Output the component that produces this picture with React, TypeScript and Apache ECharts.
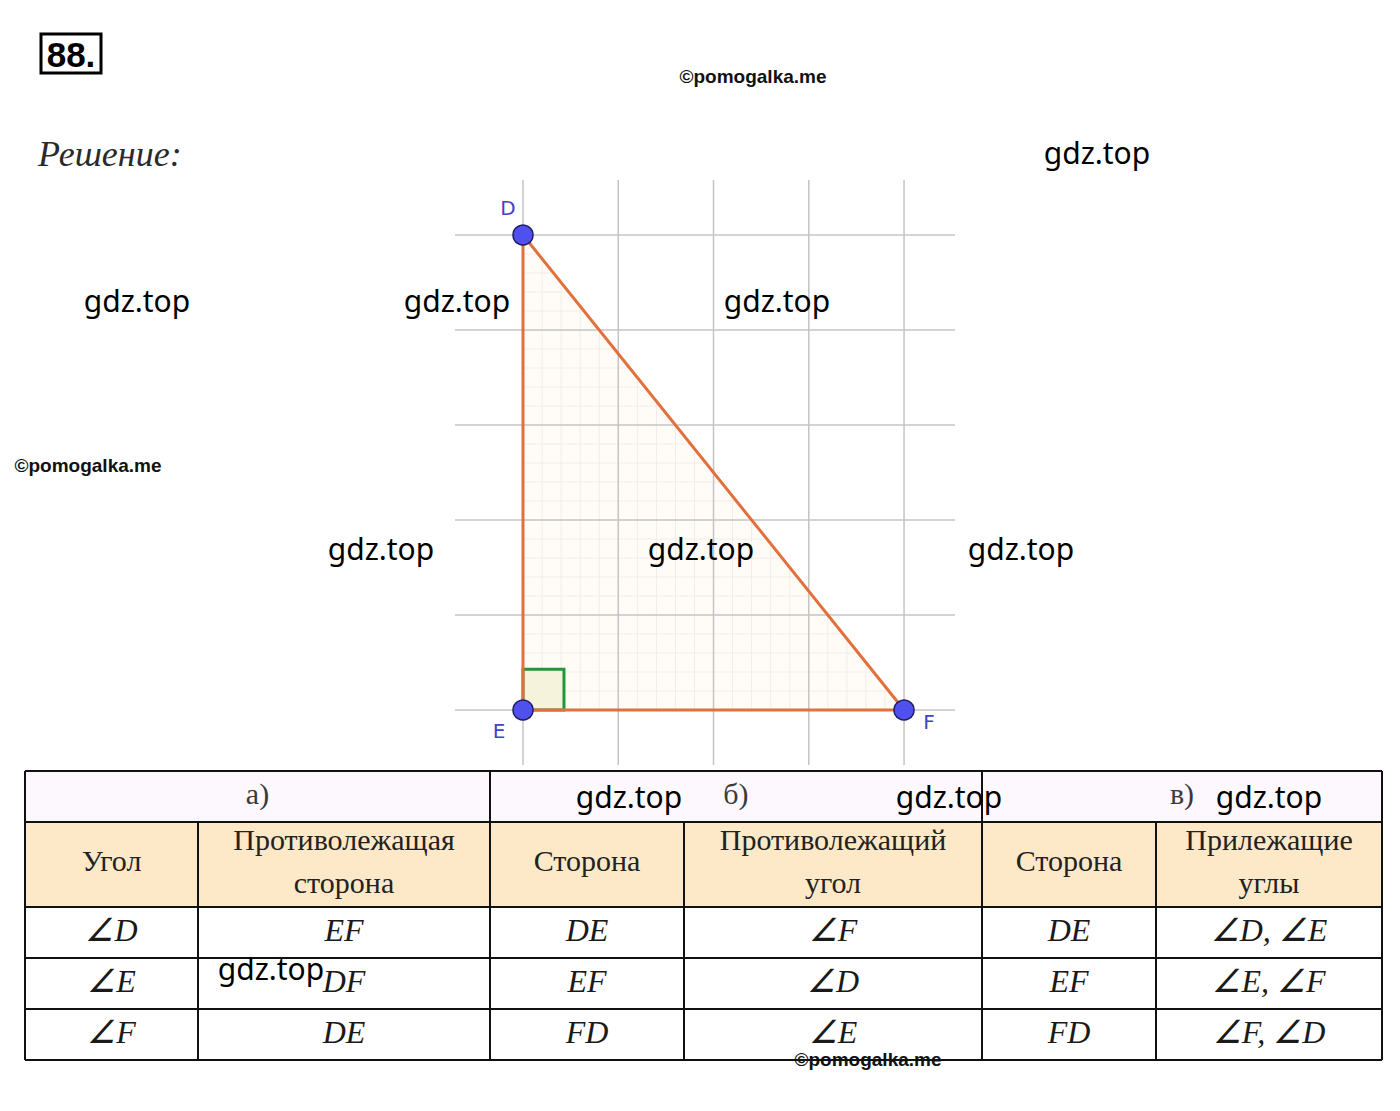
import React, { useEffect, useRef } from "react";
import * as echarts from "echarts";

// ---------- data ----------
const vertexNames = ["D", "E", "F"];
const vertexX = [0, 0, 4];
const vertexY = [5, 0, 0];
const gridXs = [0, 1, 2, 3, 4];
const gridYs = [0, 1, 2, 3, 4, 5];
const rightAngleSize = 0.43;
const minorStep = 0.2;

const sectionTitles = ["а)", "б)", "в)"];
const columnHeaders = [
  "Угол",
  "Противолежащая\nсторона",
  "Сторона",
  "Противолежащий\nугол",
  "Сторона",
  "Прилежащие\nуглы",
];
const tableRows = [
  ["∠D", "EF", "DE", "∠F", "DE", "∠D, ∠E"],
  ["∠E", "DF", "EF", "∠D", "EF", "∠E, ∠F"],
  ["∠F", "DE", "FD", "∠E", "FD", "∠F, ∠D"],
];
const watermarkText = "gdz.top";
const copyrightText = "©pomogalka.me";

// ---------- layout ----------
const X_MIN = -0.714;
const X_MAX = 4.535;
const Y_MIN = -0.579;
const Y_MAX = 5.579;
const colX = [25, 198, 490, 684, 982, 1156, 1382];
const rowY = [771, 822, 907, 958, 1009, 1060];
const wmPos = [
  [1097, 152], [137, 300], [457, 300], [777, 300], [381, 548], [701, 548],
  [1021, 548], [629, 796], [949, 796], [1269, 796], [271, 968],
];
const cpPos = [[753, 76], [88, 465], [868, 1059]];
const labelOffsets = [[-15, -27], [-24, 21], [25, 12]];

function lineRender(color: string, width: number) {
  return (params: any, api: any) => {
    const p1 = api.coord([api.value(0), api.value(1)]);
    const p2 = api.coord([api.value(2), api.value(3)]);
    return {
      type: "line",
      shape: { x1: p1[0], y1: p1[1], x2: p2[0], y2: p2[1] },
      style: { stroke: color, lineWidth: width },
    };
  };
}

export default function App() {
  const ref = useRef<HTMLDivElement>(null);
  useEffect(() => {
    if (!ref.current) return;
    const chart = echarts.init(ref.current, undefined, { renderer: "svg" });

    const majorLines = [
      ...gridXs.map((x) => [x, Y_MIN, x, Y_MAX]),
      ...gridYs.map((y) => [X_MIN, y, X_MAX, y]),
    ];
    // minor grid segments clipped to the triangle
    const bx = vertexX[2];
    const ty = vertexY[0];
    const minorLines: number[][] = [];
    for (let i = 1; i * minorStep < bx - 1e-6; i++) {
      const x = +(i * minorStep).toFixed(3);
      if (Math.abs(x - Math.round(x)) < 1e-6) continue;
      minorLines.push([x, 0, x, ty * (1 - x / bx)]);
    }
    for (let i = 1; i * minorStep < ty - 1e-6; i++) {
      const y = +(i * minorStep).toFixed(3);
      if (Math.abs(y - Math.round(y)) < 1e-6) continue;
      minorLines.push([0, y, bx * (1 - y / ty), y]);
    }

    const tri = vertexX.map((x, i) => [x, vertexY[i]]);

    const graphics: any[] = [];
    // title box
    graphics.push({
      type: "rect",
      shape: { x: 41, y: 34, width: 60, height: 39 },
      style: { fill: "#fff", stroke: "#000", lineWidth: 3 },
    });
    graphics.push({
      type: "text",
      style: {
        text: "88.", x: 71, y: 54, textAlign: "center", textVerticalAlign: "middle",
        font: 'bold 35px "Liberation Sans"', fill: "#000",
      },
    });
    graphics.push({
      type: "text",
      style: {
        text: "Решение:", x: 38, y: 154, textAlign: "left", textVerticalAlign: "middle",
        font: 'italic 36px "Liberation Serif"', fill: "#2a2a2a",
      },
    });

    // table fills
    graphics.push({
      type: "rect",
      shape: { x: colX[0], y: rowY[0], width: colX[6] - colX[0], height: rowY[1] - rowY[0] },
      style: { fill: "#fcf8fd" },
    });
    graphics.push({
      type: "rect",
      shape: { x: colX[0], y: rowY[1], width: colX[6] - colX[0], height: rowY[2] - rowY[1] },
      style: { fill: "#fde9c7" },
    });
    graphics.push({
      type: "rect",
      shape: { x: colX[0], y: rowY[2], width: colX[6] - colX[0], height: rowY[5] - rowY[2] },
      style: { fill: "#ffffff" },
    });
    // table lines
    rowY.forEach((y) => {
      graphics.push({
        type: "line",
        shape: { x1: colX[0], y1: y, x2: colX[6], y2: y },
        style: { stroke: "#111", lineWidth: 2 },
      });
    });
    colX.forEach((x, i) => {
      const full = i % 2 === 0;
      graphics.push({
        type: "line",
        shape: { x1: x, y1: full ? rowY[0] : rowY[1], x2: x, y2: rowY[5] },
        style: { stroke: "#111", lineWidth: 2 },
      });
    });
    // section titles
    sectionTitles.forEach((t, i) => {
      graphics.push({
        type: "text",
        style: {
          text: t, x: (colX[i * 2] + colX[i * 2 + 2]) / 2, y: (rowY[0] + rowY[1]) / 2 - 3,
          textAlign: "center", textVerticalAlign: "middle",
          font: '30px "Liberation Serif"', fill: "#3a3a3a",
        },
      });
    });
    columnHeaders.forEach((t, i) => {
      graphics.push({
        type: "text",
        style: {
          text: t, x: (colX[i] + colX[i + 1]) / 2, y: (rowY[1] + rowY[2]) / 2 - 4,
          textAlign: "center", textVerticalAlign: "middle", lineHeight: 43,
          font: '30px "Liberation Serif"', fill: "#222",
        },
      });
    });
    tableRows.forEach((row, r) => {
      row.forEach((t, c) => {
        graphics.push({
          type: "text",
          style: {
            text: t, x: (colX[c] + colX[c + 1]) / 2, y: (rowY[r + 2] + rowY[r + 3]) / 2 - 3,
            textAlign: "center", textVerticalAlign: "middle",
            font: 'italic 32px "Liberation Serif"', fill: "#1a1a1a",
          },
        });
      });
    });
    // watermarks
    wmPos.forEach(([x, y]) => {
      graphics.push({
        type: "text",
        z: 100,
        style: {
          text: watermarkText, x, y, textAlign: "center", textVerticalAlign: "middle",
          font: '30px "Noto Sans"', fill: "#000",
        },
      });
    });
    cpPos.forEach(([x, y]) => {
      graphics.push({
        type: "text",
        z: 100,
        style: {
          text: copyrightText, x, y, textAlign: "center", textVerticalAlign: "middle",
          font: 'bold 19px "Liberation Sans"', fill: "#111",
        },
      });
    });

    chart.setOption({
      animation: false,
      backgroundColor: "#ffffff",
      grid: { left: 455, top: 180, width: 500, height: 585 },
      xAxis: {
        type: "value", min: X_MIN, max: X_MAX, show: false,
        splitLine: { show: false },
      },
      yAxis: {
        type: "value", min: Y_MIN, max: Y_MAX, show: false,
        splitLine: { show: false },
      },
      graphic: { elements: graphics },
      series: [
        {
          type: "custom",
          name: "fill",
          coordinateSystem: "cartesian2d",
          silent: true,
          z: 1,
          data: [[0, 0]],
          renderItem: (params: any, api: any) => ({
            type: "polygon",
            shape: { points: tri.map((p) => api.coord(p)) },
            style: { fill: "#fffcf7" },
          }),
        },
        {
          type: "custom",
          name: "minor",
          coordinateSystem: "cartesian2d",
          silent: true,
          z: 2,
          data: minorLines,
          encode: { x: [0, 2], y: [1, 3] },
          renderItem: lineRender("#f3ece5", 1),
        },
        {
          type: "custom",
          name: "major",
          coordinateSystem: "cartesian2d",
          silent: true,
          clip: false,
          z: 3,
          data: majorLines,
          encode: { x: [0, 2], y: [1, 3] },
          renderItem: lineRender("#c4c4c4", 1.5),
        },
        {
          type: "custom",
          name: "rightAngle",
          coordinateSystem: "cartesian2d",
          silent: true,
          z: 4,
          data: [[0, 0]],
          renderItem: (params: any, api: any) => {
            const ex = vertexX[1], ey = vertexY[1], s = rightAngleSize;
            return {
              type: "polygon",
              shape: {
                points: [[ex, ey], [ex + s, ey], [ex + s, ey + s], [ex, ey + s]].map((p) => api.coord(p)),
              },
              style: { fill: "#f5f3dc", stroke: "#21963a", lineWidth: 3 },
            };
          },
        },
        {
          type: "line",
          name: "edges",
          z: 5,
          silent: true,
          symbol: "none",
          data: [...tri, tri[0]],
          lineStyle: { color: "#e2703c", width: 3 },
        },
        {
          type: "scatter",
          name: "points",
          z: 6,
          silent: true,
          symbolSize: 20,
          itemStyle: { color: "#5050ee", borderColor: "#1c1c60", borderWidth: 1.5, opacity: 1 },
          data: tri.map((p, i) => ({
            value: p,
            name: vertexNames[i],
            label: {
              show: true,
              formatter: vertexNames[i],
              position: "inside",
              offset: labelOffsets[i],
              color: "#4242c4",
              fontSize: 20,
              fontFamily: "DejaVu Sans",
            },
          })),
        },
      ],
    });
    return () => chart.dispose();
  }, []);
  return (
    <div
      ref={ref}
      style={{ position: "absolute", left: 0, top: 0, width: 1400, height: 1111 }}
    />
  );
}
